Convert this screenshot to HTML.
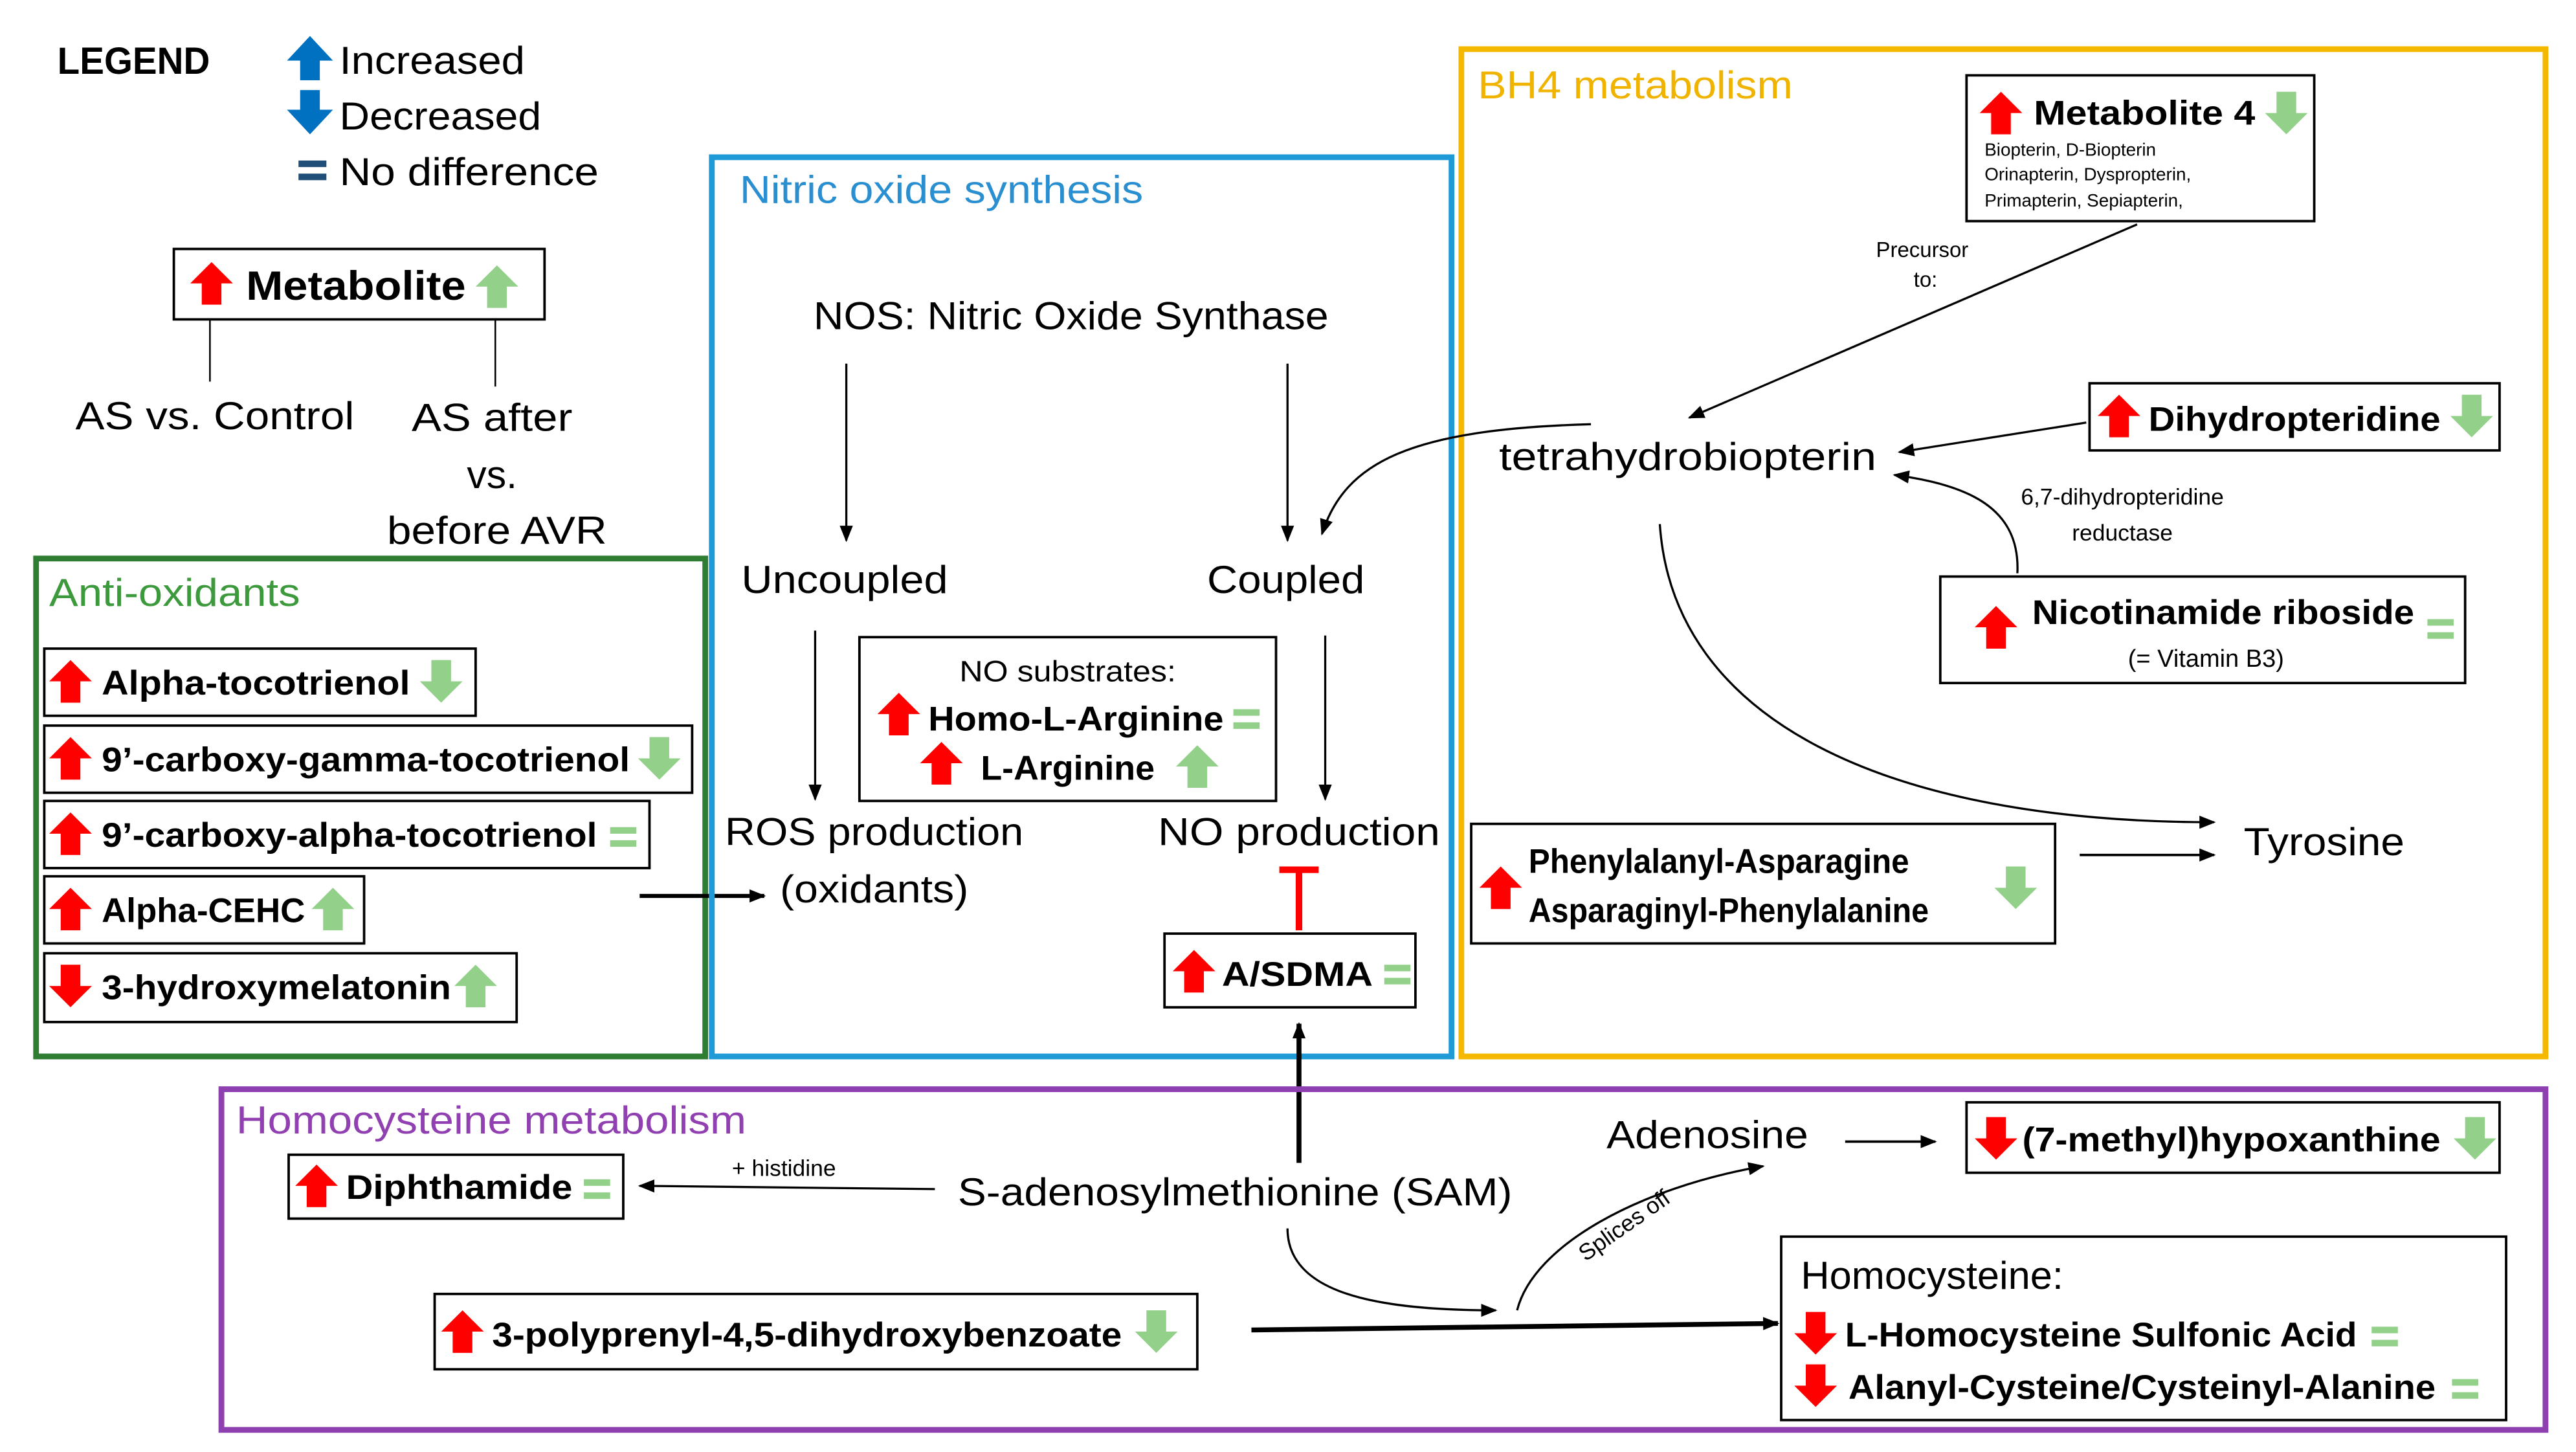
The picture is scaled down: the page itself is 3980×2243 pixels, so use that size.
<!DOCTYPE html>
<html><head><meta charset="utf-8"><style>
html,body{margin:0;padding:0;background:#fff}
svg{display:block}
text{font-family:"Liberation Sans",sans-serif}
.b{font-weight:bold;font-size:21px}
.n{font-size:24px}
</style></head><body>
<svg width="3980" height="2243" viewBox="0 0 1570.6 886.5" preserveAspectRatio="none" xmlns="http://www.w3.org/2000/svg">
<defs>
<marker id="ah" markerWidth="10" markerHeight="8" refX="9" refY="4" orient="auto" markerUnits="userSpaceOnUse"><path d="M0,0 L10,4 L0,8 z" fill="#000"/></marker>
<g id="ru"><polygon points="13,0 26,13 19,13 19,26 7,26 7,13 0,13" fill="#f00"/></g>
<g id="rd"><polygon points="13,26 26,13 19,13 19,0 7,0 7,13 0,13" fill="#f00"/></g>
<g id="gu"><polygon points="13,0 26,13 19,13 19,26 7,26 7,13 0,13" fill="#93d08a"/></g>
<g id="gd"><polygon points="13,26 26,13 19,13 19,0 7,0 7,13 0,13" fill="#93d08a"/></g>
<g id="ge"><rect x="0" y="7" width="16" height="4" fill="#93d08a"/><rect x="0" y="15" width="16" height="4" fill="#93d08a"/></g>
<g id="bu"><polygon points="14,0 28,15 20,15 20,27 8,27 8,15 0,15" fill="#0070c0"/></g>
<g id="bd"><polygon points="14,27 28,12 20,12 20,0 8,0 8,12 0,12" fill="#0070c0"/></g>
</defs>
<rect width="1580" height="890" fill="#fff"/>

<text x="35" y="45" font-weight="bold" font-size="23" textLength="93" lengthAdjust="spacingAndGlyphs">LEGEND</text>
<use href="#bu" x="175" y="22"/>
<text x="207" y="45" class="n" textLength="113" lengthAdjust="spacingAndGlyphs">Increased</text>
<use href="#bd" x="175" y="55"/>
<text x="207" y="79" class="n" textLength="123" lengthAdjust="spacingAndGlyphs">Decreased</text>
<rect x="182" y="98" width="17" height="4" fill="#1f4e79"/><rect x="182" y="106" width="17" height="4" fill="#1f4e79"/>
<text x="207" y="113" class="n" textLength="158" lengthAdjust="spacingAndGlyphs">No difference</text>

<rect x="106" y="152" width="226" height="43" fill="none" stroke="#000" stroke-width="1.5"/>
<use href="#ru" x="116" y="160"/>
<text x="150" y="183" font-weight="bold" font-size="25" textLength="134" lengthAdjust="spacingAndGlyphs">Metabolite</text>
<use href="#gu" x="290" y="162"/>
<line x1="128" y1="195" x2="128" y2="233" stroke="#000"/>
<line x1="302" y1="195" x2="302" y2="236" stroke="#000"/>
<text x="131" y="262" class="n" text-anchor="middle" textLength="170" lengthAdjust="spacingAndGlyphs">AS vs. Control</text>
<text x="300" y="263" class="n" text-anchor="middle" textLength="98" lengthAdjust="spacingAndGlyphs">AS after</text>
<text x="300" y="298" class="n" text-anchor="middle">vs.</text>
<text x="303" y="332" class="n" text-anchor="middle" textLength="134" lengthAdjust="spacingAndGlyphs">before AVR</text>

<rect x="22" y="341" width="408" height="304" fill="none" stroke="#2e7d32" stroke-width="3.5"/>
<text x="30" y="370" class="n" fill="#3c9a3c" textLength="153" lengthAdjust="spacingAndGlyphs">Anti-oxidants</text>
<g stroke="#000" stroke-width="1.5" fill="none">
<rect x="27" y="396" width="263" height="41"/>
<rect x="27" y="443" width="395" height="41"/>
<rect x="27" y="489" width="369" height="41"/>
<rect x="27" y="535" width="195" height="41"/>
<rect x="27" y="582" width="288" height="42"/>
</g>
<use href="#ru" x="30" y="403"/><text x="62" y="424" class="b" textLength="188" lengthAdjust="spacingAndGlyphs">Alpha-tocotrienol</text><use href="#gd" x="256" y="403"/>
<use href="#ru" x="30" y="450"/><text x="62" y="471" class="b" textLength="322" lengthAdjust="spacingAndGlyphs">9’-carboxy-gamma-tocotrienol</text><use href="#gd" x="389" y="450"/>
<use href="#ru" x="30" y="496"/><text x="62" y="517" class="b" textLength="302" lengthAdjust="spacingAndGlyphs">9’-carboxy-alpha-tocotrienol</text><use href="#ge" x="372" y="498"/>
<use href="#ru" x="30" y="542"/><text x="62" y="563" class="b" textLength="124" lengthAdjust="spacingAndGlyphs">Alpha-CEHC</text><use href="#gu" x="190" y="542"/>
<use href="#rd" x="30" y="589"/><text x="62" y="610" class="b" textLength="213" lengthAdjust="spacingAndGlyphs">3-hydroxymelatonin</text><use href="#gu" x="277" y="589"/>
<line x1="390" y1="547" x2="466" y2="547" stroke="#000" stroke-width="2.5" marker-end="url(#ah)"/>

<rect x="434" y="96" width="451" height="549" fill="none" stroke="#1e9ad6" stroke-width="3.5"/>
<text x="451" y="124" class="n" fill="#2a8fd0" textLength="246" lengthAdjust="spacingAndGlyphs">Nitric oxide synthesis</text>
<text x="653" y="201" class="n" text-anchor="middle" textLength="314" lengthAdjust="spacingAndGlyphs">NOS: Nitric Oxide Synthase</text>
<g stroke="#000" stroke-width="1.3" marker-end="url(#ah)">
<line x1="516" y1="222" x2="516" y2="330"/>
<line x1="785" y1="222" x2="785" y2="330"/>
<line x1="497" y1="385" x2="497" y2="488"/>
<line x1="808" y1="388" x2="808" y2="488"/>
</g>
<text x="515" y="362" class="n" text-anchor="middle" textLength="126" lengthAdjust="spacingAndGlyphs">Uncoupled</text>
<text x="784" y="362" class="n" text-anchor="middle" textLength="96" lengthAdjust="spacingAndGlyphs">Coupled</text>
<rect x="524" y="389" width="254" height="100" fill="none" stroke="#000" stroke-width="1.5"/>
<text x="651" y="416" font-size="18" text-anchor="middle" textLength="132" lengthAdjust="spacingAndGlyphs">NO substrates:</text>
<use href="#ru" x="535" y="423"/><text x="566" y="446" class="b" textLength="180" lengthAdjust="spacingAndGlyphs">Homo-L-Arginine</text><use href="#ge" x="752" y="426"/>
<use href="#ru" x="561" y="453"/><text x="598" y="476" class="b" textLength="106" lengthAdjust="spacingAndGlyphs">L-Arginine</text><use href="#gu" x="717" y="455"/>
<text x="533" y="516" class="n" text-anchor="middle" textLength="182" lengthAdjust="spacingAndGlyphs">ROS production</text>
<text x="533" y="551" class="n" text-anchor="middle" textLength="115" lengthAdjust="spacingAndGlyphs">(oxidants)</text>
<text x="792" y="516" class="n" text-anchor="middle" textLength="172" lengthAdjust="spacingAndGlyphs">NO production</text>
<line x1="792" y1="530" x2="792" y2="568" stroke="#f00" stroke-width="4"/>
<line x1="780" y1="531" x2="804" y2="531" stroke="#f00" stroke-width="4"/>
<rect x="710" y="570" width="153" height="45" fill="none" stroke="#000" stroke-width="1.5"/>
<use href="#ru" x="715" y="580"/><text x="745" y="602" class="b" textLength="92" lengthAdjust="spacingAndGlyphs">A/SDMA</text><use href="#ge" x="844" y="582"/>
<line x1="792" y1="710" x2="792" y2="625" stroke="#000" stroke-width="3" marker-end="url(#ah)"/>

<rect x="891" y="30" width="661" height="615" fill="none" stroke="#f5b800" stroke-width="3.5"/>
<text x="901" y="60" class="n" fill="#f0b400" textLength="192" lengthAdjust="spacingAndGlyphs">BH4 metabolism</text>
<rect x="1199" y="46" width="212" height="89" fill="none" stroke="#000" stroke-width="1.5"/>
<use href="#ru" x="1207" y="56"/><text x="1240" y="76" class="b" textLength="135" lengthAdjust="spacingAndGlyphs">Metabolite 4</text><use href="#gd" x="1381" y="56"/>
<text x="1210" y="95" font-size="11">Biopterin, D-Biopterin</text>
<text x="1210" y="110" font-size="11">Orinapterin, Dyspropterin,</text>
<text x="1210" y="126" font-size="11">Primapterin, Sepiapterin,</text>
<line x1="1303" y1="137" x2="1030" y2="255" stroke="#000" stroke-width="1.3" marker-end="url(#ah)"/>
<text x="1172" y="157" font-size="13" text-anchor="middle">Precursor</text>
<text x="1174" y="175" font-size="13" text-anchor="middle">to:</text>
<text x="1029" y="287" class="n" text-anchor="middle" textLength="230" lengthAdjust="spacingAndGlyphs">tetrahydrobiopterin</text>
<rect x="1274" y="234" width="250" height="41" fill="none" stroke="#000" stroke-width="1.5"/>
<use href="#ru" x="1279" y="241"/><text x="1310" y="263" class="b" textLength="178" lengthAdjust="spacingAndGlyphs">Dihydropteridine</text><use href="#gd" x="1494" y="241"/>
<line x1="1272" y1="258" x2="1158" y2="276" stroke="#000" stroke-width="1.3" marker-end="url(#ah)"/>
<path d="M1230,350 C1232,310 1200,296 1155,290" fill="none" stroke="#000" stroke-width="1.3" marker-end="url(#ah)"/>
<text x="1294" y="308" font-size="14" text-anchor="middle">6,7-dihydropteridine</text>
<text x="1294" y="330" font-size="14" text-anchor="middle">reductase</text>
<rect x="1183" y="352" width="320" height="65" fill="none" stroke="#000" stroke-width="1.5"/>
<use href="#ru" x="1204" y="370"/><text x="1239" y="381" class="b" textLength="233" lengthAdjust="spacingAndGlyphs">Nicotinamide riboside</text>
<text x="1345" y="407" font-size="15" text-anchor="middle">(= Vitamin B3)</text><use href="#ge" x="1480" y="371"/>
<path d="M970,259 C860,262 820,282 806,326" fill="none" stroke="#000" stroke-width="1.3" marker-end="url(#ah)"/>
<path d="M1012,320 C1020,440 1150,502 1350,502" fill="none" stroke="#000" stroke-width="1.3" marker-end="url(#ah)"/>
<rect x="897" y="503" width="356" height="73" fill="none" stroke="#000" stroke-width="1.5"/>
<use href="#ru" x="902" y="529"/>
<text x="932" y="533" class="b" textLength="232" lengthAdjust="spacingAndGlyphs">Phenylalanyl-Asparagine</text>
<text x="932" y="563" class="b" textLength="244" lengthAdjust="spacingAndGlyphs">Asparaginyl-Phenylalanine</text>
<use href="#gd" x="1216" y="529"/>
<line x1="1268" y1="522" x2="1350" y2="522" stroke="#000" stroke-width="1.5" marker-end="url(#ah)"/>
<text x="1368" y="522" class="n" textLength="98" lengthAdjust="spacingAndGlyphs">Tyrosine</text>

<rect x="135" y="665" width="1417" height="208" fill="none" stroke="#8e3fb0" stroke-width="3.5"/>
<text x="144" y="692" class="n" fill="#9040b0" textLength="311" lengthAdjust="spacingAndGlyphs">Homocysteine metabolism</text>
<rect x="176" y="705" width="204" height="39" fill="none" stroke="#000" stroke-width="1.5"/>
<use href="#ru" x="180" y="711"/><text x="211" y="732" class="b" textLength="138" lengthAdjust="spacingAndGlyphs">Diphthamide</text><use href="#ge" x="356" y="713"/>
<line x1="570" y1="726" x2="390" y2="724" stroke="#000" stroke-width="1.3" marker-end="url(#ah)"/>
<text x="478" y="718" font-size="14" text-anchor="middle">+ histidine</text>
<text x="753" y="736" class="n" text-anchor="middle" textLength="338" lengthAdjust="spacingAndGlyphs">S-adenosylmethionine (SAM)</text>
<text x="1041" y="701" class="n" text-anchor="middle" textLength="123" lengthAdjust="spacingAndGlyphs">Adenosine</text>
<line x1="1125" y1="697" x2="1180" y2="697" stroke="#000" stroke-width="1.5" marker-end="url(#ah)"/>
<rect x="1199" y="673" width="325" height="43" fill="none" stroke="#000" stroke-width="1.5"/>
<use href="#rd" x="1204" y="682"/><text x="1233" y="703" class="b" textLength="255" lengthAdjust="spacingAndGlyphs">(7-methyl)hypoxanthine</text><use href="#gd" x="1496" y="682"/>
<path d="M785,750 C785,790 840,800 912,800" fill="none" stroke="#000" stroke-width="1.3" marker-end="url(#ah)"/>
<path d="M925,800 C935,760 1000,725 1075,712" fill="none" stroke="#000" stroke-width="1.3" marker-end="url(#ah)"/>
<text x="993" y="752" font-size="14" text-anchor="middle" transform="rotate(-35 993 752)">Splices off</text>
<rect x="265" y="790" width="465" height="46" fill="none" stroke="#000" stroke-width="1.5"/>
<use href="#ru" x="269" y="800"/><text x="300" y="822" class="b" textLength="384" lengthAdjust="spacingAndGlyphs">3-polyprenyl-4,5-dihydroxybenzoate</text><use href="#gd" x="692" y="800"/>
<line x1="763" y1="812" x2="1084" y2="808" stroke="#000" stroke-width="3" marker-end="url(#ah)"/>
<rect x="1086" y="755" width="442" height="112" fill="none" stroke="#000" stroke-width="1.5"/>
<text x="1098" y="787" class="n" textLength="160" lengthAdjust="spacingAndGlyphs">Homocysteine:</text>
<use href="#rd" x="1094" y="801"/><text x="1125" y="822" class="b" textLength="312" lengthAdjust="spacingAndGlyphs">L-Homocysteine Sulfonic Acid</text><use href="#ge" x="1446" y="803"/>
<use href="#rd" x="1094" y="833"/><text x="1127" y="854" class="b" textLength="358" lengthAdjust="spacingAndGlyphs">Alanyl-Cysteine/Cysteinyl-Alanine</text><use href="#ge" x="1495" y="835"/>
</svg>
</body></html>
